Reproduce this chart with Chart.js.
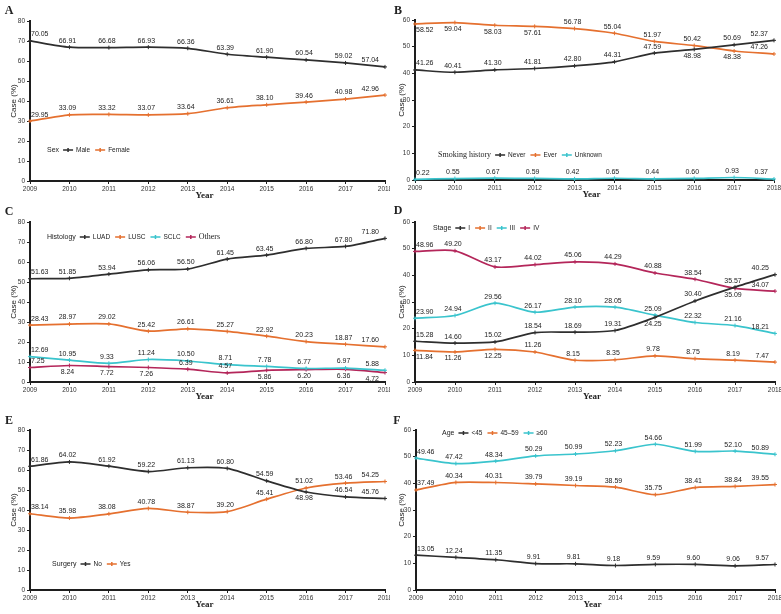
<!DOCTYPE html>
<html>
<head>
<meta charset="utf-8">
<script src="https://cdn.jsdelivr.net/npm/chart.js@4.4.1/dist/chart.umd.min.js"></script>
<style>
    html, body { margin: 0; padding: 0; background: #fff; }
    canvas { position: absolute; }
</style>
</head>
<body>
<canvas id="pA" width="390" height="200" style="left:0;top:0"></canvas>
<canvas id="pB" width="391" height="200" style="left:390px;top:0"></canvas>
<canvas id="pC" width="390" height="205" style="left:0;top:200px"></canvas>
<canvas id="pD" width="391" height="205" style="left:390px;top:200px"></canvas>
<canvas id="pE" width="390" height="209" style="left:0;top:405px"></canvas>
<canvas id="pF" width="391" height="209" style="left:390px;top:405px"></canvas>
<script>
var years = ['2009', '2010', '2011', '2012', '2013', '2014', '2015', '2016', '2017', '2018'];

// A - sex
var sexMale = [70.05, 66.91, 66.68, 66.93, 66.36, 63.39, 61.90, 60.54, 59.02, 57.04];
var sexFemale = [29.95, 33.09, 33.32, 33.07, 33.64, 36.61, 38.10, 39.46, 40.98, 42.96];

// B - smoking history
var smokeNever = [41.26, 40.41, 41.30, 41.81, 42.80, 44.31, 47.59, 48.98, 50.69, 52.37];
var smokeEver = [58.52, 59.04, 58.03, 57.61, 56.78, 55.04, 51.97, 50.42, 48.38, 47.26];
var smokeUnknown = [0.22, 0.55, 0.67, 0.59, 0.42, 0.65, 0.44, 0.60, 0.93, 0.37];

// C - histology
var histLUAD = [51.63, 51.85, 53.94, 56.06, 56.50, 61.45, 63.45, 66.80, 67.80, 71.80];
var histLUSC = [28.43, 28.97, 29.02, 25.42, 26.61, 25.27, 22.92, 20.23, 18.87, 17.60];
var histSCLC = [12.69, 10.95, 9.33, 11.24, 10.50, 8.71, 7.78, 6.77, 6.97, 5.88];
var histOthers = [7.25, 8.24, 7.72, 7.26, 6.39, 4.57, 5.86, 6.20, 6.36, 4.72];

// D - stage
var stageI = [15.28, 14.60, 15.02, 18.54, 18.69, 19.31, 24.25, 30.40, 35.57, 40.25];
var stageII = [11.84, 11.26, 12.25, 11.26, 8.15, 8.35, 9.78, 8.75, 8.19, 7.47];
var stageIII = [23.90, 24.94, 29.56, 26.17, 28.10, 28.05, 25.09, 22.32, 21.16, 18.21];
var stageIV = [48.96, 49.20, 43.17, 44.02, 45.06, 44.29, 40.88, 38.54, 35.09, 34.07];

// E - surgery
var surgNo = [61.86, 64.02, 61.92, 59.22, 61.13, 60.80, 54.59, 48.98, 46.54, 45.76];
var surgYes = [38.14, 35.98, 38.08, 40.78, 38.87, 39.20, 45.41, 51.02, 53.46, 54.25];

// F - age
var ageUnder45 = [13.05, 12.24, 11.35, 9.91, 9.81, 9.18, 9.59, 9.60, 9.06, 9.57];
var age45to59 = [37.49, 40.34, 40.31, 39.79, 39.19, 38.59, 35.75, 38.41, 38.84, 39.55];
var age60plus = [49.46, 47.42, 48.34, 50.29, 50.99, 52.23, 54.66, 51.99, 52.10, 50.89];

var C_DARK = '#2e2e2e';
var C_ORANGE = '#e5702f';
var C_CYAN = '#3ac4cd';
var C_RED = '#b4265a';
var SANS = '"Liberation Sans", Arial, sans-serif';
var SERIF = '"Liberation Serif", "Times New Roman", serif';

function series(label, data, color, extra) {
    var ds = {
        label: label,
        data: data,
        borderColor: color,
        backgroundColor: color,
        borderWidth: 1.7,
        tension: 0.25,
        pointStyle: 'cross',
        pointRadius: 2,
        pointBorderWidth: 1,
        clip: false,
        below: []
    };
    if (extra) {
        for (var k in extra) ds[k] = extra[k];
    }
    return ds;
}

var decor = {
    id: 'decor',
    afterDraw: function (chart) {
        var ctx = chart.ctx;
        var o = chart.options.plugins.decor;
        ctx.save();
        ctx.font = '7px ' + SANS;
        chart.data.datasets.forEach(function (ds, di) {
            var meta = chart.getDatasetMeta(di);
            meta.data.forEach(function (pt, i) {
                var below = ds.below.indexOf(i) >= 0;
                var x = pt.x - 2;
                ctx.fillStyle = '#222';
                ctx.textAlign = 'center';
                if (i === 0) { ctx.textAlign = 'left'; x = pt.x + 1; }
                if (i === meta.data.length - 1) { ctx.textAlign = 'right'; x = pt.x - 6; }
                ctx.textBaseline = below ? 'top' : 'bottom';
                ctx.fillText(ds.data[i].toFixed(2), x, below ? pt.y + 3 : pt.y - 3);
            });
        });

        // legend inside plot
        var lx = o.legendX, ly = o.legendY;
        ctx.textAlign = 'left';
        ctx.textBaseline = 'middle';
        ctx.fillStyle = '#222';
        ctx.font = o.legendTitleFont;
        ctx.fillText(o.legendTitle, lx, ly);
        lx += ctx.measureText(o.legendTitle).width + 4;
        chart.data.datasets.forEach(function (ds) {
            ctx.strokeStyle = ds.borderColor;
            ctx.lineWidth = 1.5;
            ctx.beginPath();
            ctx.moveTo(lx, ly);
            ctx.lineTo(lx + 10, ly);
            ctx.moveTo(lx + 5, ly - 2);
            ctx.lineTo(lx + 5, ly + 2);
            ctx.stroke();
            lx += 13;
            ctx.fillStyle = '#222';
            ctx.font = ds.legendFont || ('6.5px ' + SANS);
            ctx.fillText(ds.label, lx, ly);
            lx += ctx.measureText(ds.label).width + 5;
        });

        // panel letter, axis titles
        var a = chart.chartArea;
        ctx.font = 'bold 12px ' + SERIF;
        ctx.textAlign = 'center';
        ctx.fillText(o.letter, o.letterX, o.letterY);

        ctx.font = 'bold 9px ' + SERIF;
        ctx.fillText('Year', (a.left + a.right) / 2 - 3, a.bottom + 15);

        ctx.save();
        ctx.translate(o.yTitleX, (a.top + a.bottom) / 2);
        ctx.rotate(-Math.PI / 2);
        ctx.font = '8px ' + SANS;
        ctx.fillText('Case (%)', 0, 0);
        ctx.restore();
        ctx.restore();
    }
};

function makePanel(id, p) {
    var canvas = document.getElementById(id);
    var w = canvas.width, h = canvas.height;
    var axisColor = '#1e1e1e';
    new Chart(canvas, {
        type: 'line',
        data: { labels: years, datasets: p.datasets },
        plugins: [decor],
        options: {
            responsive: false,
            devicePixelRatio: 1,
            animation: false,
            layout: { padding: { left: 0, top: p.top, right: w - p.right, bottom: 0 } },
            plugins: {
                legend: { display: false },
                tooltip: { enabled: false },
                decor: {
                    letter: p.letter, letterX: p.letterX, letterY: p.letterY,
                    legendTitle: p.legendTitle,
                    legendTitleFont: p.legendTitleFont || ('7px ' + SANS),
                    legendX: p.legendX, legendY: p.legendY,
                    yTitleX: p.yTitleX
                }
            },
            scales: {
                x: {
                    offset: false,
                    grid: { display: true, drawOnChartArea: false, drawTicks: true, tickLength: 3, color: axisColor, lineWidth: 1 },
                    border: { display: true, color: axisColor, width: 2 },
                    ticks: { color: '#333', font: { size: 6.5, family: SANS }, padding: 1, maxRotation: 0, autoSkip: false },
                    afterFit: function (s) {
                        s.height = h - p.bottom;
                        s.paddingLeft = 0;
                        s.paddingRight = 0;
                    }
                },
                y: {
                    min: 0,
                    max: p.yMax,
                    grid: { display: true, drawOnChartArea: false, drawTicks: true, tickLength: 3, color: axisColor, lineWidth: 1 },
                    border: { display: true, color: axisColor, width: 2 },
                    ticks: { stepSize: 10, color: '#333', font: { size: 6.5, family: SANS }, padding: 2 },
                    afterFit: function (s) {
                        s.width = p.left;
                        s.paddingTop = 0;
                        s.paddingBottom = 0;
                    }
                }
            }
        }
    });
}

makePanel('pA', {
    letter: 'A', letterX: 9, letterY: 11,
    left: 30, right: 388, top: 21, bottom: 181, yMax: 80, yTitleX: 14,
    legendTitle: 'Sex', legendX: 47, legendY: 150,
    datasets: [
        series('Male', sexMale, C_DARK),
        series('Female', sexFemale, C_ORANGE)
    ]
});

makePanel('pB', {
    letter: 'B', letterX: 8, letterY: 11,
    left: 25, right: 384, top: 20, bottom: 180, yMax: 60, yTitleX: 12,
    legendTitle: 'Smoking history', legendTitleFont: '8px ' + SERIF, legendX: 48, legendY: 155,
    datasets: [
        series('Never', smokeNever, C_DARK, { below: [7] }),
        series('Ever', smokeEver, C_ORANGE, { below: [0, 1, 2, 3, 8] }),
        series('Unknown', smokeUnknown, C_CYAN)
    ]
});

makePanel('pC', {
    letter: 'C', letterX: 9, letterY: 12,
    left: 30, right: 388, top: 22, bottom: 182, yMax: 80, yTitleX: 14,
    legendTitle: 'Histology', legendX: 47, legendY: 37,
    datasets: [
        series('LUAD', histLUAD, C_DARK),
        series('LUSC', histLUSC, C_ORANGE),
        series('SCLC', histSCLC, C_CYAN),
        series('Others', histOthers, C_RED, { below: [1, 2, 3, 6, 7, 8, 9], legendFont: '8px ' + SERIF })
    ]
});

makePanel('pD', {
    letter: 'D', letterX: 8, letterY: 11,
    left: 25, right: 385, top: 22, bottom: 182, yMax: 60, yTitleX: 12,
    legendTitle: 'Stage', legendX: 43, legendY: 28,
    datasets: [
        series('I', stageI, C_DARK, { below: [6] }),
        series('II', stageII, C_ORANGE, { below: [0, 1, 2] }),
        series('III', stageIII, C_CYAN),
        series('IV', stageIV, C_RED, { below: [8] })
    ]
});

makePanel('pE', {
    letter: 'E', letterX: 9, letterY: 16,
    left: 30, right: 388, top: 25, bottom: 185, yMax: 80, yTitleX: 14,
    legendTitle: 'Surgery', legendX: 52, legendY: 159,
    datasets: [
        series('No', surgNo, C_DARK, { below: [7] }),
        series('Yes', surgYes, C_ORANGE)
    ]
});

makePanel('pF', {
    letter: 'F', letterX: 7, letterY: 16,
    left: 26, right: 385, top: 25, bottom: 185, yMax: 60, yTitleX: 12,
    legendTitle: 'Age', legendX: 52, legendY: 28,
    datasets: [
        series('<45', ageUnder45, C_DARK),
        series('45–59', age45to59, C_ORANGE),
        series('≥60', age60plus, C_CYAN)
    ]
});
</script>
</body>
</html>
